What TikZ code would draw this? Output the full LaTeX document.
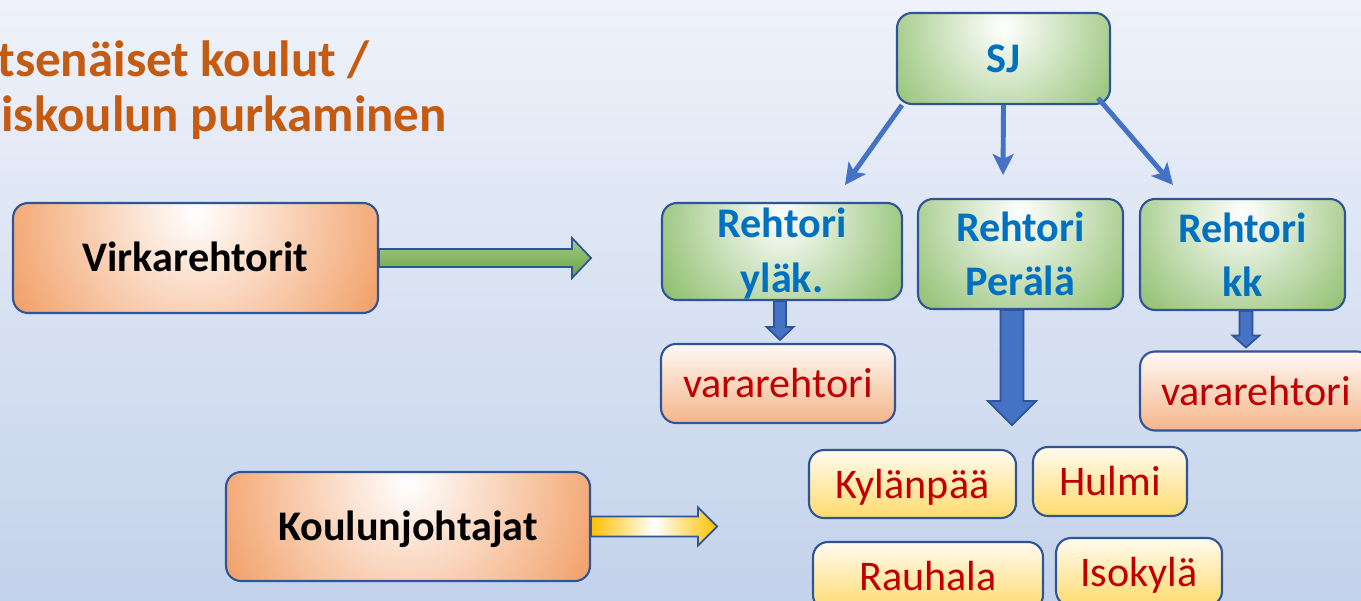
\documentclass[tikz,border=0pt]{standalone}
\usepackage{fontspec}
\setmainfont{Carlito}
\usetikzlibrary{arrows.meta,calc}
\definecolor{bgtop}{HTML}{EFF2FA}
\definecolor{bgbot}{HTML}{C3D2EB}
\definecolor{titleorange}{HTML}{C55A11}
\definecolor{boxorange}{HTML}{ED7D31}
\definecolor{boxgreen}{HTML}{70AD47}
\definecolor{edgeblue}{HTML}{2F5597}
\definecolor{arrowblue}{HTML}{4472C4}
\definecolor{textblue}{HTML}{0070C0}
\definecolor{textred}{HTML}{C00000}
\definecolor{peach}{HTML}{F4B183}
\definecolor{gold}{HTML}{FFC000}
\definecolor{lightyellow}{HTML}{FFD966}
\definecolor{arrowgreen}{HTML}{70AD47}
\begin{document}
\begin{tikzpicture}[x=0.02cm,y=-0.02cm,
  box/.style={draw=edgeblue,line width=1.2pt,rounded corners=0.3cm,inner sep=0pt},
  oneline/.style={text height=0.56cm,text depth=0cm},
  orangebox/.style={box,oneline,fill=boxorange,
    path picture={\shade[inner color=white,outer color=boxorange] ($(path picture bounding box.north)+(0,10)$) circle (5.6cm);},
    font=\fontsize{24}{28}\selectfont\bfseries},
  greenbox/.style={box,fill=boxgreen,align=center,text=textblue,
    path picture={\shade[inner color=white,outer color=boxgreen] ($(path picture bounding box.north)+(0,14)$) circle (3.6cm);},
    font=\fontsize{24}{31}\selectfont\bfseries},
  peachbox/.style={box,oneline,top color=peach!8!white,bottom color=peach!95!white,text=textred,
    font=\fontsize{24}{28}\selectfont},
  yellowbox/.style={box,oneline,top color=lightyellow!10!white,bottom color=lightyellow!95!white,text=textred,
    font=\fontsize{24}{28}\selectfont},
  titletext/.style={text=titleorange,inner sep=0pt,font=\fontsize{29}{34}\selectfont\bfseries},
  thinarrow/.style={draw=arrowblue,line width=2.8pt,-{Stealth[length=0.42cm,width=0.42cm,inset=0.1cm]}},
  bluearrow/.style={draw=edgeblue,line width=1pt,fill=arrowblue},
  greenarrow/.style={draw=edgeblue,line width=1pt,top color=arrowgreen!65!white,bottom color=arrowgreen!95!black},
  goldarrow/.style={draw=edgeblue,line width=1pt,left color=gold,right color=gold,middle color=white}]
  \useasboundingbox (0,0) rectangle (1361,601);
  \shade[top color=bgtop,bottom color=bgbot] (0,0) rectangle (1361,601);
  \node[titletext,anchor=base west] (T1) at (-3,77) {tsenäiset koulut /};
  \node[titletext,anchor=base west] (T2) at (1,132) {iskoulun purkaminen};
  \node[orangebox,minimum width=7.3cm,minimum height=2.2cm] (Vir) at (195.5,258) {Virkarehtorit};
  \node[orangebox,minimum width=7.28cm,minimum height=2.18cm] (Kou) at (408,526.5) {Koulunjohtajat};
  \node[greenbox,oneline,minimum width=4.26cm,minimum height=1.82cm] (SJ) at (1003.5,58.5) {SJ};
  \node[greenbox,minimum width=4.8cm,minimum height=1.94cm] (Ryl) at (782,251.5) {\rule{0pt}{0.68cm}Rehtori\\yläk.};
  \node[greenbox,minimum width=4.1cm,minimum height=2.2cm] (Rpe) at (1020.5,254) {Rehtori\\Perälä};
  \node[greenbox,minimum width=4.1cm,minimum height=2.22cm] (Rkk) at (1242.5,254.5) {Rehtori\\kk};
  \node[peachbox,minimum width=4.68cm,minimum height=1.58cm] (Vyl) at (778,383.5) {vararehtori};
  \node[peachbox,minimum width=4.64cm,minimum height=1.58cm] (Vkk) at (1256,391) {vararehtori};
  \node[yellowbox,minimum width=4.14cm,minimum height=1.36cm] (Kyl) at (912.5,484) {Kylänpää};
  \node[yellowbox,minimum width=3.08cm,minimum height=1.38cm] (Hul) at (1110,481.5) {Hulmi};
  \node[yellowbox,minimum width=4.6cm,minimum height=1.36cm] (Rau) at (928,576) {Rauhala};
  \node[yellowbox,minimum width=3.32cm,minimum height=1.36cm] (Iso) at (1139,572) {Isokylä};
  \coordinate (Atip) at (845,185);
  \coordinate (Btip) at (1003,175);
  \coordinate (Ctip) at (1173,185);
  \draw[thinarrow] ($(SJ.south west)+(6,0)$) -- (Atip);
  \draw[thinarrow] (SJ.south) -- (Btip);
  \draw[thinarrow] ($(SJ.south east)+(-13,-7)$) -- (Ctip);
  \coordinate (Vtip) at ($(Vir.east)+(212,0)$);
  \draw[greenarrow] ($(Vir.east)+(0,-9)$) -- ($(Vtip)+(-19,-9)$) -- ($(Vtip)+(-19,-20)$) -- (Vtip)
    -- ($(Vtip)+(-19,20)$) -- ($(Vtip)+(-19,9)$) -- ($(Vir.east)+(0,9)$) -- cycle;
  \coordinate (Ktip) at ($(Kou.east)+(126,0)$);
  \draw[goldarrow] ($(Kou.east)+(0,-10)$) -- ($(Ktip)+(-19,-10)$) -- ($(Ktip)+(-19,-19)$) -- (Ktip)
    -- ($(Ktip)+(-19,19)$) -- ($(Ktip)+(-19,10)$) -- ($(Kou.east)+(0,10)$) -- cycle;
  \coordinate (Ytop) at ($(Ryl.south)+(-2,0)$);
  \coordinate (Ytip) at ($(Vyl.north)+(2,-3)$);
  \draw[bluearrow] ($(Ytop)+(-6,0)$) -- ($(Ytip)+(-6,-13)$) -- ($(Ytip)+(-13.5,-13)$) -- (Ytip)
    -- ($(Ytip)+(13.5,-13)$) -- ($(Ytip)+(6,-13)$) -- ($(Ytop)+(6,0)$) -- cycle;
  \coordinate (Ptop) at ($(Rpe.south)+(-8.5,0)$);
  \coordinate (Ptip) at ($(Ptop)+(0,115)$);
  \draw[bluearrow] ($(Ptop)+(-11.5,0)$) -- ($(Ptip)+(-11.5,-24)$) -- ($(Ptip)+(-24,-24)$) -- (Ptip)
    -- ($(Ptip)+(24,-24)$) -- ($(Ptip)+(11.5,-24)$) -- ($(Ptop)+(11.5,0)$) -- cycle;
  \coordinate (Ktop) at ($(Rkk.south)+(3.5,0)$);
  \coordinate (Kktip) at ($(Vkk.north)+(-10,-3)$);
  \draw[bluearrow] ($(Ktop)+(-6.5,0)$) -- ($(Kktip)+(-6.5,-12)$) -- ($(Kktip)+(-13.5,-12)$) -- (Kktip)
    -- ($(Kktip)+(13.5,-12)$) -- ($(Kktip)+(6.5,-12)$) -- ($(Ktop)+(6.5,0)$) -- cycle;
\end{tikzpicture}
\end{document}
